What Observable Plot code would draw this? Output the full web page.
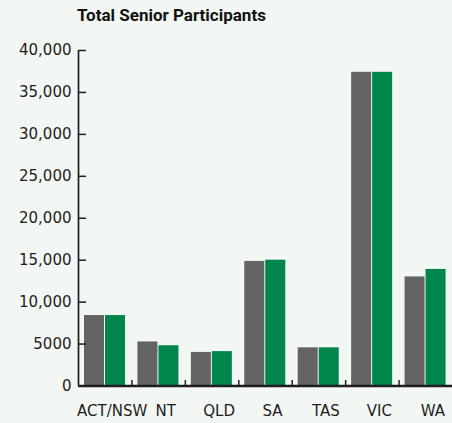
<!DOCTYPE html>
<html><head><meta charset="utf-8">
<script src="https://cdn.jsdelivr.net/npm/d3@7"></script>
<script src="https://cdn.jsdelivr.net/npm/@observablehq/plot@0.6"></script>
<style>
body{margin:0;background:#f2f7f3;}
#wrap{position:relative;width:452px;height:423px;}
#title{position:absolute;left:77px;top:5px;font:bold 17px Roboto, sans-serif;color:#111;white-space:nowrap;}
svg{display:block;}
</style></head><body>
<div id="wrap"><div id="title">Total Senior Participants</div></div>
<script>
const categories = ["ACT/NSW", "NT", "QLD", "SA", "TAS", "VIC", "WA"];
const seriesNames = ["Series 1", "Series 2"];
const series1 = [8400, 5250, 4000, 14850, 4550, 37400, 13000];
const series2 = [8400, 4800, 4100, 15000, 4550, 37400, 13900];
const yTicks = [0, 5000, 10000, 15000, 20000, 25000, 30000, 35000, 40000];
const colors = ["#636361", "#00864a"];

const W = 452, H = 423, mL = 78, mR = 0;
const bw = (W - mL - mR) / categories.length;
const rows1 = categories.map((c, i) => ({category: c, series: seriesNames[0], value: series1[i]}));
const rows2 = categories.map((c, i) => ({category: c, series: seriesNames[1], value: series2[i]}));
const axisColor = "#1e1e1e";
const fmt = d => d >= 10000 ? d3.format(",")(d) : String(d);

const chart = Plot.plot({
  width: W, height: H,
  marginLeft: mL, marginRight: mR, marginTop: 50, marginBottom: 37.5,
  style: {background: "transparent", fontFamily: "DejaVu Sans", fontSize: "15px", color: "#1e1e1e"},
  x: {domain: categories, padding: 0, round: false, label: null},
  y: {domain: [0, 40000], label: null},
  marks: [
    Plot.barY(rows1, {x: "category", y: "value", fill: colors[0], insetLeft: 6, insetRight: bw - 26}),
    Plot.barY(rows2, {x: "category", y: "value", fill: colors[1], insetLeft: 27, insetRight: bw - 47}),
    Plot.axisY({ticks: yTicks, tickFormat: fmt, tickSize: 0, tickPadding: 7, fontSize: 15}),
    Plot.axisX({tickSize: 0, tickPadding: 19, dx: 7, fontSize: 15}),
    Plot.tickY(yTicks, {y: d => d, x: () => categories[0], insetRight: bw - 8, stroke: axisColor, strokeWidth: 1.5}),
    Plot.ruleX([categories[0]], {x: d => d, y1: 0, y2: 40000, dx: -bw / 2, stroke: axisColor, strokeWidth: 1.7}),
    Plot.ruleX(categories.slice(1), {x: d => d, y1: 0, y2: 650, dx: -bw / 2, stroke: axisColor, strokeWidth: 1.5}),
    Plot.ruleY([0], {stroke: axisColor, strokeWidth: 2.5})
  ]
});
document.getElementById("wrap").appendChild(chart);
</script>
</body></html>
